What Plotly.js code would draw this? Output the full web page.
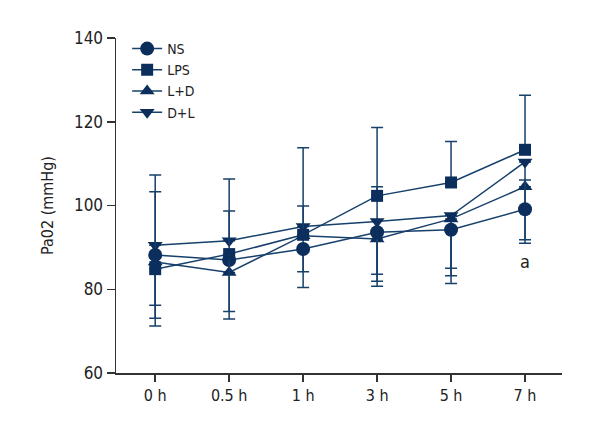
<!DOCTYPE html>
<html>
<head>
<meta charset="utf-8">
<script src="https://cdn.plot.ly/plotly-3.0.1.min.js"></script>
<style>html,body{margin:0;padding:0;background:#fff;}#chart{width:600px;height:440px;}</style>
</head>
<body>
<div id="chart"></div>
<script>
// Categories (time points)
const timePoints = ['0 h', '0.5 h', '1 h', '3 h', '5 h', '7 h'];

// Series means (PaO2, mmHg)
const nsValues  = [88.2, 87.0, 89.6, 93.6, 94.2, 99.1];
const lpsValues = [84.8, 88.4, 93.0, 102.3, 105.5, 113.3];
const ldValues  = [86.5, 84.0, 92.8, 92.0, 96.8, 104.5];
const dlValues  = [90.5, 91.6, 95.0, 96.2, 97.6, 110.4];

// Error bars (upper / lower extents)
const nsErrUp    = [15.1, 11.7, 0, 0, 0, 7.0];
const nsErrDown  = [15.1, 0, 9.2, 12.9, 9.2, 7.3];
const lpsErrUp   = [0, 0, 6.9, 16.3, 9.8, 13.0];
const lpsErrDown = [13.6, 13.7, 0, 0, 0, 0];
const ldErrUp    = [0, 0, 0, 0, 0, 0];
const ldErrDown  = [10.3, 11.1, 8.6, 8.4, 13.6, 0];
const dlErrUp    = [16.8, 14.7, 18.8, 8.3, 0, 0];
const dlErrDown  = [0, 0, 0, 14.3, 16.2, 19.4];

const seriesNames = ['NS', 'LPS', 'L+D', 'D+L'];
const markerSymbols = ['circle', 'square', 'triangle-up', 'triangle-down'];

const annotationLabel = 'a';
const annotationValue = 86.6;

const lineColor = '#17406b';
const markerColor = '#0b2e5c';
const fontFamily = '"DejaVu Sans Condensed", "Liberation Sans Narrow", sans-serif';

function makeTrace(name, values, up, down, symbol, size) {
  return {
    type: 'scatter',
    mode: 'lines+markers',
    name: name,
    x: timePoints,
    y: values,
    line: {color: lineColor, width: 1.5},
    marker: {symbol: symbol, size: size, color: markerColor},
    error_y: {type: 'data', symmetric: false, array: up, arrayminus: down,
              color: lineColor, thickness: 1.5, width: 6}
  };
}

const data = [
  makeTrace(seriesNames[2], ldValues, ldErrUp, ldErrDown, markerSymbols[2], 13),
  makeTrace(seriesNames[3], dlValues, dlErrUp, dlErrDown, markerSymbols[3], 13),
  makeTrace(seriesNames[0], nsValues, nsErrUp, nsErrDown, markerSymbols[0], 14),
  makeTrace(seriesNames[1], lpsValues, lpsErrUp, lpsErrDown, markerSymbols[1], 12)
];

const layout = {
  width: 600, height: 440,
  margin: {l: 116, r: 38, t: 38, b: 67},
  paper_bgcolor: '#fff', plot_bgcolor: '#fff',
  font: {family: fontFamily, size: 15, color: '#222'},
  showlegend: true,
  legend: {x: 0.025, y: 1.015, xanchor: 'left', yanchor: 'top', bgcolor: 'rgba(0,0,0,0)',
           traceorder: 'normal',
           font: {family: fontFamily, size: 14, color: '#222'}, tracegroupgap: 0, itemwidth: 30},
  xaxis: {
    type: 'category', range: [-0.53, 5.5],
    showline: true, linecolor: '#333', linewidth: 1.5,
    ticks: 'outside', ticklen: 7, tickwidth: 1.5, tickcolor: '#333',
    showgrid: false, zeroline: false,
    tickfont: {family: fontFamily, size: 16, color: '#222'}
  },
  yaxis: {
    range: [60, 140], tickvals: [60, 80, 100, 120, 140],
    showline: true, linecolor: '#333', linewidth: 1.5,
    ticks: 'outside', ticklen: 8, tickwidth: 1.5, tickcolor: '#333',
    showgrid: false, zeroline: false,
    tickfont: {family: fontFamily, size: 17, color: '#222'},
    title: {text: 'Pa02 (mmHg)', font: {family: fontFamily, size: 16, color: '#222'}, standoff: 16}
  },
  annotations: [{
    x: timePoints[5], y: annotationValue, xref: 'x', yref: 'y',
    text: annotationLabel, showarrow: false,
    font: {family: fontFamily, size: 18, color: '#222'}
  }]
};

// Legend order NS, LPS, L+D, D+L while drawing NS/LPS on top
data[2].legendrank = 1;
data[3].legendrank = 2;
data[0].legendrank = 3;
data[1].legendrank = 4;

Plotly.newPlot('chart', data, layout, {displayModeBar: false, staticPlot: true});
</script>
</body>
</html>
